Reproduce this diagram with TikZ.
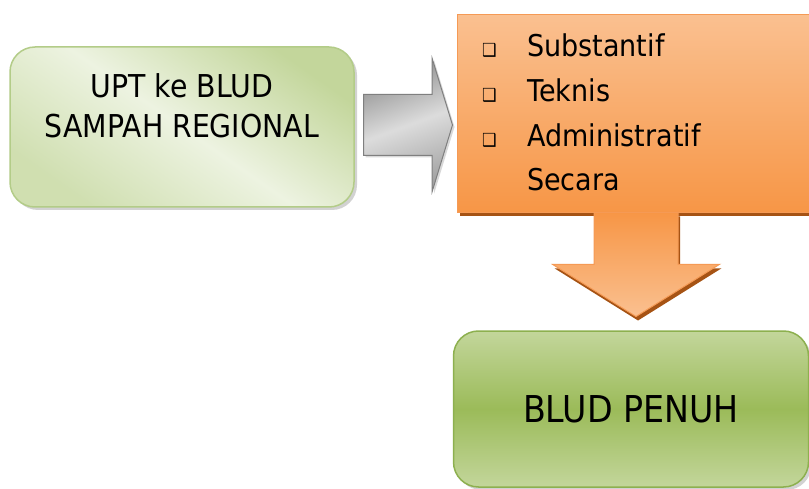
\documentclass[tikz,border=0pt]{standalone}
\usepackage{fontspec}
\setmainfont[FakeStretch=0.9]{DejaVu Sans}
\usetikzlibrary{shapes.arrows,shadows,positioning}

\definecolor{uptlight}{HTML}{EDF3E1}
\definecolor{uptdark}{HTML}{C3D69B}
\definecolor{uptline}{HTML}{B3CC88}
\definecolor{arrowlight}{HTML}{DCDCDC}
\definecolor{arrowdark}{HTML}{8C8C8C}
\definecolor{arrowline}{HTML}{7F7F7F}
\definecolor{orangelight}{HTML}{FAC090}
\definecolor{orangedark}{HTML}{F79646}
\definecolor{orangeline}{HTML}{F59A55}
\definecolor{orangeshade}{HTML}{A65314}
\definecolor{greenlight}{HTML}{C3D69B}
\definecolor{greenmid}{HTML}{9BBB59}
\definecolor{greenline}{HTML}{8DB04F}

\newcommand{\sqbullet}{\makebox[45pt][l]{\fontsize{18}{18}\selectfont ❑}}

\tikzset{
  uptbox/.style={rounded corners=25pt, draw=uptline, line width=1.5pt,
    top color=uptdark, bottom color=uptdark!70!uptlight, middle color=uptlight,
    shading angle=-35,
    drop shadow={shadow xshift=3pt, shadow yshift=-3pt, opacity=0.35}},
  grayarrow/.style={single arrow, draw=arrowline, line width=1pt,
    top color=arrowdark, bottom color=arrowdark!80, middle color=arrowlight,
    shading angle=20,
    inner xsep=0pt, inner ysep=30pt, minimum width=0pt,
    single arrow head extend=36pt, single arrow tip angle=146,
    drop shadow={shadow xshift=2pt, shadow yshift=-2pt, opacity=0.3}},
  orangebox/.style={rectangle, draw=orangeline, line width=1pt,
    top color=orangelight, bottom color=orangedark,
    drop shadow={fill=orangeshade, opacity=1, shadow xshift=2pt, shadow yshift=-4pt}},
  downarrow/.style={single arrow, draw=orangeline, line width=1pt,
    top color=orangedark, bottom color=orangelight,
    inner xsep=0pt, inner ysep=41.5pt, minimum width=0pt,
    single arrow head extend=41.5pt, single arrow tip angle=116,
    drop shadow={fill=orangeshade, opacity=1, shadow xshift=2pt, shadow yshift=-4pt}},
  greenbox/.style={rounded corners=25pt, draw=greenline, line width=1.5pt,
    top color=greenlight, bottom color=greenlight, middle color=greenmid,
    drop shadow={shadow xshift=3pt, shadow yshift=-3pt, opacity=0.35}},
  labeltext/.style={align=center, font=\fontsize{31.5}{40}\selectfont},
  itemtext/.style={anchor=base west, font=\fontsize{30}{45}\selectfont},
}

\begin{document}
\begin{tikzpicture}[x=1pt, y=-1pt, every node/.style={inner sep=0pt}]
\useasboundingbox[fill=white] (0,0) rectangle (809,489);

% left block
\node[uptbox, minimum width=344pt, minimum height=160pt] (upt) at (182,127) {};
\node[labeltext] (upttext) at (182,106) {UPT ke BLUD\\SAMPAH REGIONAL};

% gray arrow to the right
\node[grayarrow, minimum height=89pt, anchor=tail] (toright) at (363,125) {};

% orange block with list
\node[orangebox, minimum width=362pt, minimum height=198pt, anchor=north west] (aspek) at (457,14) {};
\node[itemtext] (subst) at (482,57) {\sqbullet Substantif};
\node[itemtext] (teknis) at (482,102) {\sqbullet Teknis};
\node[itemtext] (admin) at (482,147) {\sqbullet Administratif};
\node[itemtext] (secara) at (482,191) {\makebox[45pt]{}Secara};

% orange arrow down
\node[downarrow, rotate=-90, minimum height=104pt, anchor=tail] (todown) at (636,212) {};

% bottom block
\node[greenbox, minimum width=355pt, minimum height=156pt,
  font=\fontsize{37}{40}\selectfont] (penuh) at (631,409) {BLUD PENUH};
\end{tikzpicture}
\end{document}
